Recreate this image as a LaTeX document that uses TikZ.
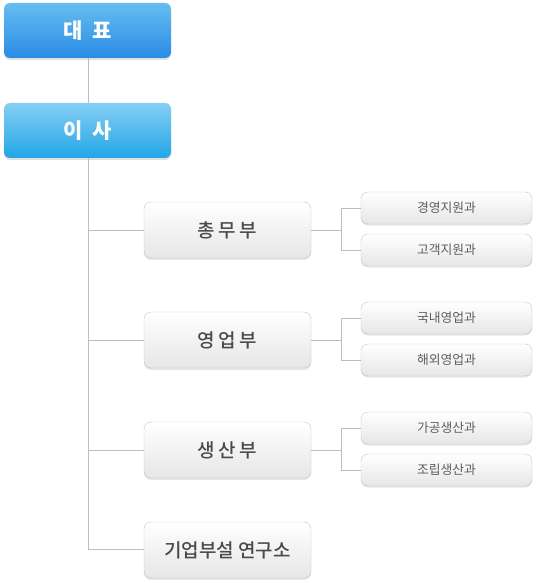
\documentclass[tikz,border=0pt]{standalone}
\usepackage{fontspec}
\setmainfont{Noto Sans CJK KR}
\newfontfamily\medfont{Noto Sans CJK KR Medium}
\usetikzlibrary{shadows}
\definecolor{topA}{HTML}{66BDF0}
\definecolor{topB}{HTML}{2A8BE5}
\definecolor{secA}{HTML}{85CEF4}
\definecolor{secB}{HTML}{22A6E6}
\definecolor{boxA}{HTML}{FFFFFF}
\definecolor{boxB}{HTML}{E6E6E6}
\definecolor{boxline}{HTML}{C4C4C4}
\definecolor{conn}{HTML}{BDBDBD}
\definecolor{txtd}{HTML}{4A4A4A}
\definecolor{txts}{HTML}{5E5E5E}
\tikzset{
  x=1pt,y=-1pt,
  topbox/.style={rounded corners=6pt, minimum width=167pt, minimum height=55pt, inner sep=0pt,
    text=white, font=\fontsize{21}{21}\selectfont\bfseries,
    drop shadow={shadow xshift=0pt, shadow yshift=-2pt, opacity=0.25}},
  midbox/.style={draw=boxline, rounded corners=7pt, minimum width=167pt, minimum height=56pt, inner sep=0pt,
    top color=boxA, bottom color=boxB, text=txtd, font=\medfont\fontsize{19}{19}\selectfont,
    drop shadow={shadow xshift=0pt, shadow yshift=-2pt, opacity=0.2}},
  subbox/.style={draw=boxline, rounded corners=7pt, minimum width=171pt, minimum height=32pt, inner sep=0pt,
    top color=boxA, bottom color=boxB, text=txts, font=\fontsize{12.8}{12.8}\selectfont,
    drop shadow={shadow xshift=0pt, shadow yshift=-1.5pt, opacity=0.2}},
  connline/.style={draw=conn, line width=0.8pt}
}
\begin{document}
\begin{tikzpicture}
\useasboundingbox (0,0) rectangle (537,585);
\coordinate (vtop) at (88,58);
\coordinate (vbot) at (88,549);
\node[topbox, top color=topA, bottom color=topB] (ceo) at (87.5,30.5) {대\hspace{0.45em}표};
\node[topbox, top color=secA, bottom color=secB] (dir) at (87.5,130.5) {이\hspace{0.45em}사};
\draw[connline] (ceo.south -| vtop) -- (dir.north -| vtop);
\draw[connline] (dir.south -| vtop) -- (vbot);
\coordinate (j1) at (88,230);
\coordinate (j2) at (88,340);
\coordinate (j3) at (88,450);
\coordinate (j4) at (88,549);
\coordinate (b1) at (341,208);
\coordinate (b2) at (341,318);
\coordinate (b3) at (341,428);
\draw[connline] (j1) -- (144,230);
\draw[connline] (j2) -- (144,340);
\draw[connline] (j3) -- (144,450);
\draw[connline] (j4) -- (144,549);
\node[midbox] (gen) at (227.5,230) {총\hspace{0.18em}무\hspace{0.18em}부};
\node[midbox] (sal) at (227.5,340) {영\hspace{0.18em}업\hspace{0.18em}부};
\node[midbox] (pro) at (227.5,450) {생\hspace{0.18em}산\hspace{0.18em}부};
\node[midbox] (lab) at (227.5,550) {기업부설 연구소};
\node[subbox] (s1) at (446.5,208) {경영지원과};
\node[subbox] (s2) at (446.5,250) {고객지원과};
\node[subbox] (s3) at (446.5,318) {국내영업과};
\node[subbox] (s4) at (446.5,360) {해외영업과};
\node[subbox] (s5) at (446.5,428) {가공생산과};
\node[subbox] (s6) at (446.5,470) {조립생산과};
\draw[connline] (gen.east) -- (gen.east -| b1) |- (s1.west);
\draw[connline] (gen.east -| b1) |- (s2.west);
\draw[connline] (sal.east) -- (sal.east -| b2) |- (s3.west);
\draw[connline] (sal.east -| b2) |- (s4.west);
\draw[connline] (pro.east) -- (pro.east -| b3) |- (s5.west);
\draw[connline] (pro.east -| b3) |- (s6.west);
\end{tikzpicture}
\end{document}
